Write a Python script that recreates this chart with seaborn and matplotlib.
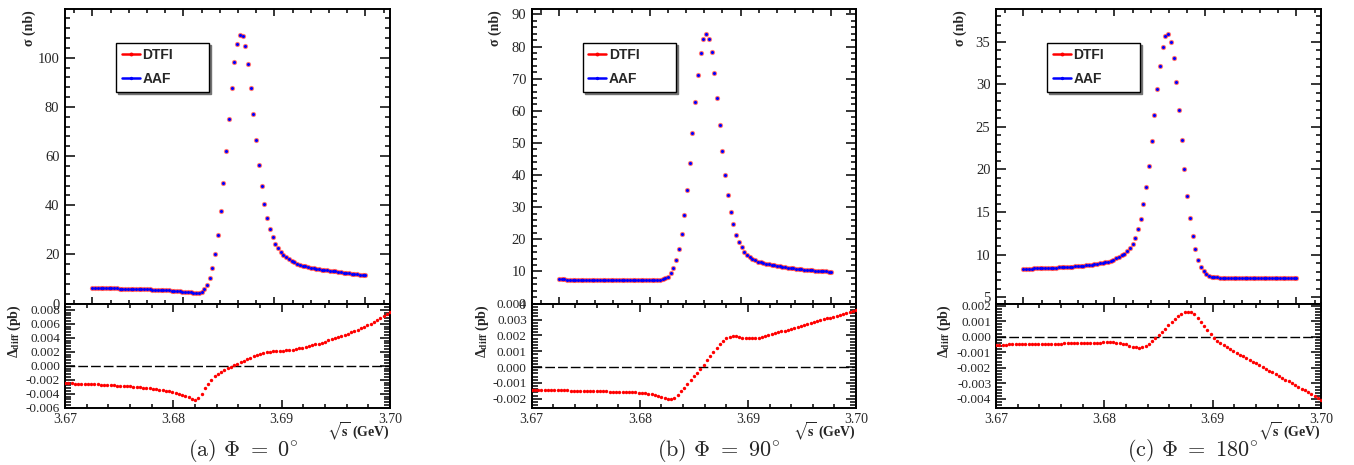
import numpy as np
import pandas as pd
import seaborn as sns
import matplotlib
matplotlib.use("Agg")
import matplotlib.pyplot as plt
from matplotlib.ticker import MultipleLocator, FormatStrFormatter
from matplotlib.lines import Line2D

# ---------------------------------------------------------------- data
# centre-of-mass energy scan (GeV), 101 points
sqrt_s = np.round(np.linspace(3.67, 3.70, 101), 4)

# cross sections (nb) from the DTFI calculation
sigma_phi0 = [
    6.40, 6.37, 6.34, 6.31, 6.28, 6.25, 6.22, 6.19, 6.16, 6.13,
    6.10, 6.07, 6.04, 6.01, 5.98, 5.95, 5.91, 5.87, 5.83, 5.79,
    5.75, 5.71, 5.67, 5.62, 5.57, 5.52, 5.47, 5.41, 5.35, 5.28,
    5.15, 5.05, 4.95, 4.85, 4.75, 4.65, 4.55, 4.45, 4.38, 4.40,
    4.70, 5.80, 7.50, 10.2, 14.3, 20.0, 27.9, 37.7, 49.2, 62.0,
    75.2, 87.8, 98.2, 105.6, 109.2, 108.7, 104.6, 97.3, 87.8, 77.1,
    66.5, 56.4, 47.9, 40.5, 34.8, 30.3, 26.9, 24.2, 22.4, 20.9,
    19.7, 18.8, 18.0, 17.3, 16.7, 16.2, 15.8, 15.45, 15.13, 14.85,
    14.60, 14.37, 14.16, 13.97, 13.79, 13.62, 13.46, 13.31, 13.16, 13.02,
    12.88, 12.74, 12.60, 12.46, 12.32, 12.18, 12.04, 11.90, 11.77, 11.64,
    11.50]

sigma_phi90 = [
    7.50, 7.49, 7.48, 7.47, 7.46, 7.45, 7.44, 7.43, 7.42, 7.41,
    7.40, 7.39, 7.38, 7.37, 7.36, 7.35, 7.34, 7.33, 7.32, 7.31,
    7.30, 7.29, 7.28, 7.27, 7.26, 7.25, 7.24, 7.23, 7.22, 7.22,
    7.21, 7.21, 7.21, 7.22, 7.24, 7.28, 7.35, 7.42, 7.55, 7.90,
    8.40, 9.60, 11.2, 13.4, 16.9, 21.5, 27.7, 35.2, 43.8, 53.2,
    62.6, 71.1, 78.0, 82.4, 84.0, 82.4, 78.2, 71.8, 64.1, 55.7,
    47.6, 40.1, 33.9, 28.6, 24.6, 21.4, 19.3, 17.5, 16.1, 15.2,
    14.5, 13.9, 13.5, 13.0, 12.8, 12.6, 12.4, 12.2, 12.0, 11.85,
    11.70, 11.55, 11.42, 11.30, 11.18, 11.07, 10.96, 10.86, 10.76, 10.67,
    10.58, 10.49, 10.41, 10.33, 10.25, 10.18, 10.11, 10.04, 9.97, 9.91,
    9.85]

sigma_phi180 = [
    8.33, 8.34, 8.35, 8.36, 8.37, 8.38, 8.40, 8.41, 8.42, 8.44,
    8.45, 8.47, 8.48, 8.50, 8.52, 8.54, 8.56, 8.58, 8.60, 8.62,
    8.65, 8.68, 8.71, 8.74, 8.78, 8.82, 8.86, 8.91, 8.97, 9.03,
    9.10, 9.18, 9.28, 9.40, 9.55, 9.72, 9.90, 10.1, 10.4, 10.8,
    11.3, 12.0, 13.0, 14.2, 15.9, 17.9, 20.4, 23.3, 26.4, 29.4,
    32.2, 34.4, 35.7, 35.95, 35.0, 33.1, 30.3, 27.0, 23.4, 20.0,
    16.9, 14.3, 12.2, 10.6, 9.40, 8.60, 8.05, 7.70, 7.50, 7.40,
    7.35, 7.32, 7.30, 7.29, 7.28, 7.27, 7.26, 7.26, 7.25, 7.25,
    7.24, 7.24, 7.24, 7.23, 7.23, 7.23, 7.22, 7.22, 7.22, 7.22,
    7.21, 7.21, 7.21, 7.21, 7.21, 7.20, 7.20, 7.20, 7.20, 7.20,
    7.20]

# DTFI - AAF difference (pb)
diff_phi0 = [
    -0.00250, -0.00251, -0.00253, -0.00254, -0.00256, -0.00258, -0.00260, -0.00262, -0.00264, -0.00266,
    -0.00268, -0.00270, -0.00272, -0.00274, -0.00277, -0.00280, -0.00283, -0.00286, -0.00289, -0.00292,
    -0.00295, -0.00299, -0.00303, -0.00307, -0.00312, -0.00317, -0.00322, -0.00328, -0.00334, -0.00341,
    -0.00349, -0.00357, -0.00366, -0.00376, -0.00388, -0.00401, -0.00416, -0.00432, -0.00452, -0.00474,
    -0.00490, -0.00468, -0.00405, -0.00325, -0.00255, -0.00198, -0.00152, -0.00115, -0.00084, -0.00057,
    -0.00034, -0.00013, 0.00007, 0.00027, 0.00048, 0.00070, 0.00093, 0.00116, 0.00138, 0.00158,
    0.00174, 0.00187, 0.00196, 0.00202, 0.00206, 0.00209, 0.00212, 0.00215, 0.00219, 0.00224,
    0.00230, 0.00238, 0.00247, 0.00257, 0.00268, 0.00280, 0.00292, 0.00305, 0.00318, 0.00332,
    0.00346, 0.00361, 0.00376, 0.00392, 0.00408, 0.00425, 0.00442, 0.00460, 0.00478, 0.00497,
    0.00516, 0.00535, 0.00557, 0.00580, 0.00604, 0.00628, 0.00653, 0.00679, 0.00706, 0.00734,
    0.00762]

diff_phi90 = [
    -0.00143, -0.00143, -0.00144, -0.00144, -0.00144, -0.00145, -0.00145, -0.00146, -0.00146, -0.00147,
    -0.00147, -0.00147, -0.00148, -0.00148, -0.00149, -0.00149, -0.00150, -0.00150, -0.00151, -0.00151,
    -0.00152, -0.00152, -0.00153, -0.00153, -0.00154, -0.00154, -0.00155, -0.00155, -0.00156, -0.00157,
    -0.00158, -0.00159, -0.00160, -0.00161, -0.00163, -0.00165, -0.00168, -0.00171, -0.00175, -0.00180,
    -0.00186, -0.00193, -0.00199, -0.00202, -0.00193, -0.00175, -0.00153, -0.00129, -0.00104, -0.00080,
    -0.00057, -0.00035, -0.00010, 0.00016, 0.00043, 0.00070, 0.00097, 0.00123, 0.00147, 0.00168,
    0.00183, 0.00192, 0.00195, 0.00194, 0.00190, 0.00186, 0.00183, 0.00182, 0.00182, 0.00184,
    0.00187, 0.00191, 0.00196, 0.00202, 0.00208, 0.00214, 0.00220, 0.00226, 0.00231, 0.00237,
    0.00243, 0.00249, 0.00255, 0.00261, 0.00267, 0.00272, 0.00278, 0.00284, 0.00290, 0.00296,
    0.00302, 0.00308, 0.00313, 0.00319, 0.00325, 0.00331, 0.00337, 0.00343, 0.00348, 0.00354,
    0.00360]

diff_phi180 = [
    -0.00052, -0.00052, -0.00051, -0.00051, -0.00050, -0.00050, -0.00050, -0.00049, -0.00049, -0.00048,
    -0.00048, -0.00048, -0.00047, -0.00047, -0.00046, -0.00046, -0.00045, -0.00045, -0.00045, -0.00044,
    -0.00044, -0.00043, -0.00043, -0.00042, -0.00042, -0.00041, -0.00041, -0.00040, -0.00040, -0.00039,
    -0.00039, -0.00038, -0.00038, -0.00037, -0.00037, -0.00037, -0.00037, -0.00038, -0.00040, -0.00044,
    -0.00050, -0.00057, -0.00064, -0.00068, -0.00070, -0.00067, -0.00058, -0.00045, -0.00029, -0.00011,
    0.00009, 0.00030, 0.00051, 0.00073, 0.00094, 0.00114, 0.00132, 0.00146, 0.00156, 0.00160,
    0.00156, 0.00143, 0.00121, 0.00095, 0.00068, 0.00041, 0.00015, -0.00008, -0.00026, -0.00041,
    -0.00054, -0.00067, -0.00079, -0.00091, -0.00103, -0.00115, -0.00126, -0.00138, -0.00149, -0.00161,
    -0.00172, -0.00184, -0.00195, -0.00207, -0.00218, -0.00230, -0.00241, -0.00253, -0.00264, -0.00276,
    -0.00287, -0.00299, -0.00310, -0.00322, -0.00333, -0.00345, -0.00356, -0.00368, -0.00380, -0.00392,
    -0.00405]

captions = [r"(a) $\Phi\ =\ 0^{\circ}$", r"(b) $\Phi\ =\ 90^{\circ}$", r"(c) $\Phi\ =\ 180^{\circ}$"]
series_labels = ["DTFI", "AAF"]

# ---------------------------------------------------------------- style
sns.set_theme(style="ticks")
plt.rcParams["font.family"] = ["Liberation Serif", "DejaVu Serif"]
plt.rcParams["axes.unicode_minus"] = False
plt.rcParams["axes.linewidth"] = 1.4
plt.rcParams["axes.edgecolor"] = "black"

W, H = 1354, 465
fig = plt.figure(figsize=(W / 100, H / 100), dpi=100)


def px_axes(left, right, top, bottom):
    return fig.add_axes([left / W, 1 - bottom / H, (right - left) / W, (bottom - top) / H])


# per panel layout: frame edges (px), axis limits, tick steps, text anchors
layout = [
    dict(left=65, right=390, ylim=(0, 119.7), ymaj=20, ymin=4,
         dlim=(-0.0060, 0.0089), dmaj=0.002, dmin=0.0004,
         sig_x=29, d_x=14, cap_x=243),
    dict(left=531.7, right=856, ylim=(0, 91.6), ymaj=10, ymin=2,
         dlim=(-0.00256, 0.00402), dmaj=0.001, dmin=0.0002,
         sig_x=495, d_x=482, cap_x=719),
    dict(left=996, right=1321, ylim=(4.26, 38.8), ymaj=5, ymin=1,
         dlim=(-0.00456, 0.00213), dmaj=0.001, dmin=0.0002,
         sig_x=960, d_x=944, cap_x=1193),
]

sigmas = [sigma_phi0, sigma_phi90, sigma_phi180]
diffs = [diff_phi0, diff_phi90, diff_phi180]

TOP, MID, BOT = 9.3, 303.5, 407.7

for k, lay in enumerate(layout):
    dtfi = np.array(sigmas[k])
    delta = np.array(diffs[k])
    # AAF cross section: DTFI minus the difference (pb -> nb)
    aaf = dtfi - delta * 1e-3
    df = pd.DataFrame({"sqrt_s": sqrt_s, "DTFI": dtfi, "AAF": aaf, "diff": delta})

    # ---- upper pad: cross sections
    ax = px_axes(lay["left"], lay["right"], TOP, MID)
    sns.scatterplot(data=df, x="sqrt_s", y="DTFI", ax=ax, color="red", s=14,
                    linewidth=0, alpha=0.55, legend=False, zorder=3)
    sns.scatterplot(data=df, x="sqrt_s", y="AAF", ax=ax, color="blue", s=5,
                    linewidth=0, legend=False, zorder=4)
    ax.set_xlim(3.667, 3.7027)
    ax.set_ylim(*lay["ylim"])
    ax.xaxis.set_major_locator(MultipleLocator(0.01))
    ax.xaxis.set_minor_locator(MultipleLocator(0.002))
    ax.yaxis.set_major_locator(MultipleLocator(lay["ymaj"]))
    ax.yaxis.set_minor_locator(MultipleLocator(lay["ymin"]))
    ax.yaxis.set_major_formatter(FormatStrFormatter("%g"))
    ax.set_xlabel("")
    ax.set_ylabel("")
    ax.tick_params(which="both", direction="in", top=True, right=True,
                   labelbottom=False, color="black", width=1.1)
    ax.tick_params(axis="y", which="major", length=7.2, labelsize=10.5, pad=4)
    ax.tick_params(axis="y", which="minor", length=3.6)
    ax.tick_params(axis="x", which="major", length=5.0)
    ax.tick_params(axis="x", which="minor", length=2.6)
    for sp in ax.spines.values():
        sp.set_visible(True)
        sp.set_linewidth(1.4)

    handles = [
        Line2D([0], [0], color="red", lw=1.8, marker="o", ms=1.8),
        Line2D([0], [0], color="blue", lw=1.8, marker="o", ms=1.4),
    ]
    x0 = 51 / (lay["right"] - lay["left"])
    wl = 93 / (lay["right"] - lay["left"])
    y1 = (MID - 42.7) / (MID - TOP)
    leg = ax.legend(handles, series_labels, loc="upper left",
                    bbox_to_anchor=(x0, y1 - 0.2, wl, 0.2), mode="expand",
                    borderaxespad=0, frameon=True, fancybox=False,
                    edgecolor="black", framealpha=1,
                    shadow={"color": "0.45", "alpha": 1, "ox": 1.5, "oy": -1.5},
                    prop={"family": "Liberation Sans", "weight": "bold", "size": 10},
                    handlelength=1.3, handletextpad=0.2, borderpad=0.4,
                    labelspacing=0.7)
    leg.get_frame().set_linewidth(1.0)

    # ---- lower pad: difference
    bx = px_axes(lay["left"], lay["right"], MID, BOT)
    sns.scatterplot(data=df, x="sqrt_s", y="diff", ax=bx, color="red", s=6,
                    linewidth=0, legend=False, zorder=3)
    bx.axhline(0, color="black", lw=1.0, ls=(0, (7, 2.2)), zorder=2)
    bx.set_xlim(3.67, 3.70)
    bx.set_ylim(*lay["dlim"])
    bx.xaxis.set_major_locator(MultipleLocator(0.01))
    bx.xaxis.set_minor_locator(MultipleLocator(0.002))
    bx.xaxis.set_major_formatter(FormatStrFormatter("%.2f"))
    bx.yaxis.set_major_locator(MultipleLocator(lay["dmaj"]))
    bx.yaxis.set_minor_locator(MultipleLocator(lay["dmin"]))
    bx.yaxis.set_major_formatter(FormatStrFormatter("%.3f"))
    bx.set_xlabel("")
    bx.set_ylabel("")
    bx.tick_params(which="both", direction="in", top=True, right=True,
                   color="black", width=1.1)
    bx.tick_params(axis="y", which="major", length=7.0, labelsize=9.5, pad=3.5)
    bx.tick_params(axis="y", which="minor", length=4.0)
    bx.tick_params(axis="x", which="major", length=5.5, labelsize=10, pad=4)
    bx.tick_params(axis="x", which="minor", length=3.0)
    for sp in bx.spines.values():
        sp.set_visible(True)
        sp.set_linewidth(1.4)

    # ---- axis titles and caption
    fig.text(lay["sig_x"] / W, 1 - 10 / H, "σ (nb)", rotation=90, ha="center",
             va="top", fontsize=10, fontweight="bold")
    fig.text(lay["d_x"] / W, 1 - 304 / H, "Δ$_{\\mathbf{diff}}$ (pb)", rotation=90,
             ha="center", va="top", fontsize=10, fontweight="bold",
             math_fontfamily="stix")
    fig.text(lay["right"] / W, 1 - 432 / H, r"$\sqrt{\mathbf{s}}$ (GeV)", ha="right",
             va="center", fontsize=10, fontweight="bold", math_fontfamily="stix")
    fig.text(lay["cap_x"] / W, 1 - 450 / H, captions[k], ha="center", va="center",
             fontsize=16, family="cmr10", math_fontfamily="cm")

fig.savefig("out.png", dpi=100)
